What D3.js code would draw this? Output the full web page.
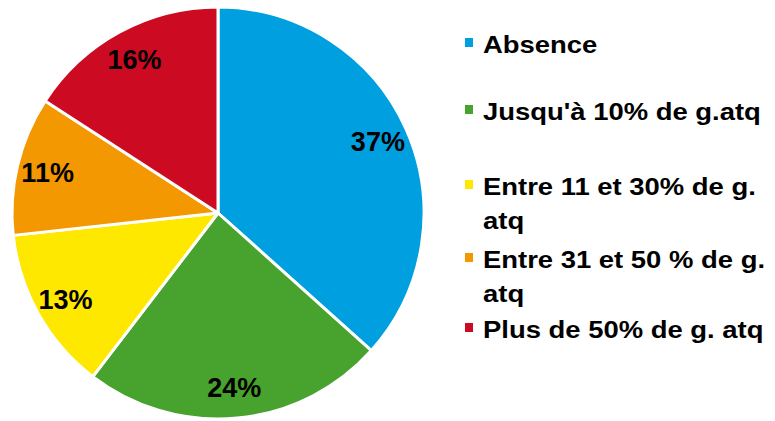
<!DOCTYPE html>
<html>
<head>
<meta charset="utf-8">
<script src="https://cdn.jsdelivr.net/npm/d3@7"></script>
<style>
  body { margin: 0; background: #fff; }
  svg { display: block; font-family: "Liberation Sans", Arial, sans-serif; font-weight: bold; }
</style>
</head>
<body>
<svg id="chart" width="775" height="421"></svg>
<script>
// data
const categories = ['Absence', "Jusqu'à 10% de g.atq", 'Entre 11 et 30% de g. atq', 'Entre 31 et 50 % de g. atq', 'Plus de 50% de g. atq'];
const legendLines = [['Absence'], ["Jusqu'à 10% de g.atq"], ['Entre 11 et 30% de g.', 'atq'], ['Entre 31 et 50 % de g.', 'atq'], ['Plus de 50% de g. atq']];
const values = [37, 24, 13, 11, 16];
const colors = ['#009fe0', '#48a22e', '#ffe800', '#f39800', '#cc0a21'];

const svg = d3.select('svg#chart'),
  cx = 218, cy = 213, radius = 206;

const color = d3.scaleOrdinal().domain(categories).range(colors);

const pie = d3.pie().sort(null).value(d => d.value);
const arcs = pie(categories.map((c, i) => ({ name: c, value: values[i] })));

const arc = d3.arc().innerRadius(0).outerRadius(radius);
const labelArc = d3.arc().innerRadius(radius * 0.85).outerRadius(radius * 0.85);

const g = svg.append('g').attr('transform', `translate(${cx},${cy})`);

g.selectAll('path').data(arcs).enter()
  .append('path')
    .attr('d', arc)
    .attr('fill', d => color(d.data.name))
    .attr('stroke', '#fff')
    .attr('stroke-width', 3)
    .attr('stroke-linejoin', 'round');

g.selectAll('text').data(arcs).enter()
  .append('text')
    .attr('transform', d => `translate(${labelArc.centroid(d)})`)
    .attr('text-anchor', 'middle')
    .attr('dy', '0.36em')
    .attr('font-size', 27)
    .attr('fill', '#000')
    .text(d => d.data.value + '%');

// legend
const rowY = [53, 120, 195, 268, 338]; // baselines of first line
const legend = svg.append('g').attr('class', 'legend');
const rows = legend.selectAll('g').data(categories).enter()
  .append('g')
    .attr('transform', (d, i) => `translate(465,${rowY[i]})`);

rows.append('rect')
  .attr('x', 0).attr('y', -15)
  .attr('width', 8).attr('height', 9)
  .attr('fill', d => color(d));

rows.append('text')
  .attr('font-size', 24.5)
  .attr('fill', '#000')
  .attr('transform', 'translate(18,0) scale(1.12,1)')
  .selectAll('tspan').data((d, i) => legendLines[i]).enter()
  .append('tspan')
    .attr('x', 0)
    .attr('y', (d, j) => j * 34)
    .text(d => d);
</script>
</body>
</html>
